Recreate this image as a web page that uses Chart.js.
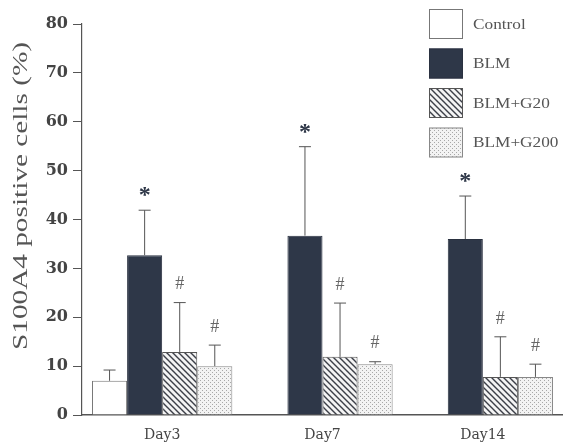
<!DOCTYPE html>
<html>
<head>
<meta charset="utf-8">
<script src="https://cdn.jsdelivr.net/npm/chart.js@4/dist/chart.umd.min.js"></script>
<style>
  html, body { margin: 0; padding: 0; background: #fff; }
  #wrap { width: 563px; height: 446px; position: relative; }
</style>
</head>
<body>
<div id="wrap"><canvas id="chart"></canvas></div>
<script>
const categories = ["Day3", "Day7", "Day14"];
const seriesNames = ["Control", "BLM", "BLM+G20", "BLM+G200"];
const yTitle = "S100A4 positive cells (%)";

// means (%) and upper SD
const control = [7.0, null, null];
const blm = [32.7, 36.7, 36.0];
const g20 = [12.9, 11.9, 7.8];
const g200 = [10.0, 10.4, 7.8];

const controlSd = [2.2, null, null];
const blmSd = [9.2, 18.2, 8.8];
const g20Sd = [10.1, 11.0, 8.2];
const g200Sd = [4.3, 0.5, 2.6];

// significance marks above each bar
const controlMarks = ["", "", ""];
const blmMarks = ["*", "*", "*"];
const g20Marks = ["#", "#", "#"];
const g200Marks = ["#", "#", "#"];

const yTicks = [0, 10, 20, 30, 40, 50, 60, 70, 80];

const serif = "'Liberation Serif', 'Times New Roman', serif";

function makePattern(kind) {
  const c = document.createElement("canvas");
  const p = c.getContext("2d");
  if (kind === "hatch") {
    c.width = 6; c.height = 6;
    p.fillStyle = "#f4f4f4";
    p.fillRect(0, 0, 6, 6);
    p.strokeStyle = "#3c3f48";
    p.lineWidth = 1.4;
    p.beginPath();
    p.moveTo(-1, -1); p.lineTo(7, 7);
    p.moveTo(-4, 2); p.lineTo(4, 10);
    p.moveTo(2, -4); p.lineTo(10, 4);
    p.stroke();
  } else {
    c.width = 4; c.height = 4;
    p.fillStyle = "#f3f3f3";
    p.fillRect(0, 0, 4, 4);
    p.fillStyle = "#a8a8a8";
    p.fillRect(0, 0, 1, 1);
    p.fillRect(2, 2, 1, 1);
  }
  return p.createPattern(c, "repeat");
}

// draw text stretched along its baseline (the scanned figure is wide-set)
function stretchedText(ctx, text, x, y, stretch) {
  ctx.save();
  ctx.translate(x, y);
  ctx.scale(stretch, 1);
  ctx.fillText(text, 0, 0);
  ctx.restore();
}

const sds = [controlSd, blmSd, g20Sd, g200Sd];
const marks = [controlMarks, blmMarks, g20Marks, g200Marks];

const errorPlugin = {
  id: "errorBars",
  afterDatasetsDraw(chart) {
    const ctx = chart.ctx;
    const y = chart.scales.y;
    ctx.save();
    chart.data.datasets.forEach((ds, i) => {
      const meta = chart.getDatasetMeta(i);
      meta.data.forEach((bar, j) => {
        const v = ds.data[j];
        if (v == null) return;
        const top = y.getPixelForValue(v + sds[i][j]);
        ctx.strokeStyle = "#555";
        ctx.lineWidth = 1;
        ctx.beginPath();
        ctx.moveTo(bar.x, bar.y);
        ctx.lineTo(bar.x, top);
        ctx.moveTo(bar.x - 6, top);
        ctx.lineTo(bar.x + 6, top);
        ctx.stroke();
        const m = marks[i][j];
        if (m) {
          ctx.textAlign = "center";
          ctx.textBaseline = "middle";
          if (m === "*") {
            ctx.fillStyle = "#2e3748";
            ctx.font = "bold 24px " + serif;
            ctx.fillText(m, bar.x, top - 14);
          } else {
            ctx.fillStyle = "#666";
            ctx.font = "18px " + serif;
            ctx.fillText(m, bar.x, top - 18);
          }
        }
      });
    });
    ctx.restore();
  }
};

const legendPlugin = {
  id: "boxLegend",
  afterDraw(chart) {
    const ctx = chart.ctx;
    ctx.save();
    chart.data.datasets.forEach((ds, i) => {
      const bx = 429, by = 9 + i * 39.5, bw = 34, bh = 30;
      ctx.fillStyle = ds.backgroundColor;
      ctx.fillRect(bx, by, bw, bh);
      ctx.strokeStyle = ds.borderColor;
      ctx.lineWidth = 1;
      ctx.strokeRect(bx + 0.5, by + 0.5, bw - 1, bh - 1);
      ctx.fillStyle = "#555";
      ctx.font = "15px " + serif;
      ctx.textAlign = "left";
      ctx.textBaseline = "middle";
      stretchedText(ctx, ds.label, 473, by + bh / 2 + 1, 1.15);
    });
    ctx.restore();
  }
};

const titlePlugin = {
  id: "yTitle",
  afterDraw(chart) {
    const ctx = chart.ctx;
    const area = chart.chartArea;
    ctx.save();
    ctx.font = "20px " + serif;
    ctx.fillStyle = "#555";
    ctx.textAlign = "center";
    ctx.textBaseline = "middle";
    const w = ctx.measureText(yTitle).width;
    const target = 308;
    ctx.translate(22, 196);
    ctx.rotate(-Math.PI / 2);
    ctx.scale(target / w, 1);
    ctx.fillText(yTitle, 0, 0);
    ctx.restore();
  }
};

const ctx = document.getElementById("chart").getContext("2d");
new Chart(ctx, {
  type: "bar",
  data: {
    labels: categories,
    datasets: [
      { label: seriesNames[0], data: control, backgroundColor: "#ffffff", borderColor: "#777" },
      { label: seriesNames[1], data: blm, backgroundColor: "#2e3748", borderColor: "#2a3140" },
      { label: seriesNames[2], data: g20, backgroundColor: makePattern("hatch"), borderColor: "#555" },
      { label: seriesNames[3], data: g200, backgroundColor: makePattern("dots"), borderColor: "#888" }
    ].map(d => Object.assign(d, { borderWidth: 1, categoryPercentage: 0.875, barPercentage: 1 }))
  },
  options: {
    responsive: true,
    maintainAspectRatio: false,
    animation: false,
    layout: { padding: { top: 24, right: 0, left: 0, bottom: 0 } },
    plugins: {
      legend: { display: false },
      tooltip: { enabled: false }
    },
    scales: {
      x: {
        afterFit: (axis) => { axis.height = 31; },
        grid: { display: false, drawTicks: false },
        border: { color: "#555", width: 1.5 },
        ticks: { color: "#444", padding: 12, font: { size: 14, family: "'DejaVu Serif', serif" } }
      },
      y: {
        min: 0,
        max: 80,
        afterFit: (axis) => { axis.width = 82; },
        afterBuildTicks: (axis) => { axis.ticks = yTicks.map(v => ({ value: v })); },
        grid: { drawOnChartArea: false, drawTicks: true, tickLength: 9, color: "#555" },
        border: { color: "#555", width: 1.2 },
        ticks: { color: "#444", padding: 5, font: { size: 16, weight: "bold", family: "'DejaVu Serif', serif" } }
      }
    }
  },
  plugins: [errorPlugin, legendPlugin, titlePlugin]
});
</script>
</body>
</html>
